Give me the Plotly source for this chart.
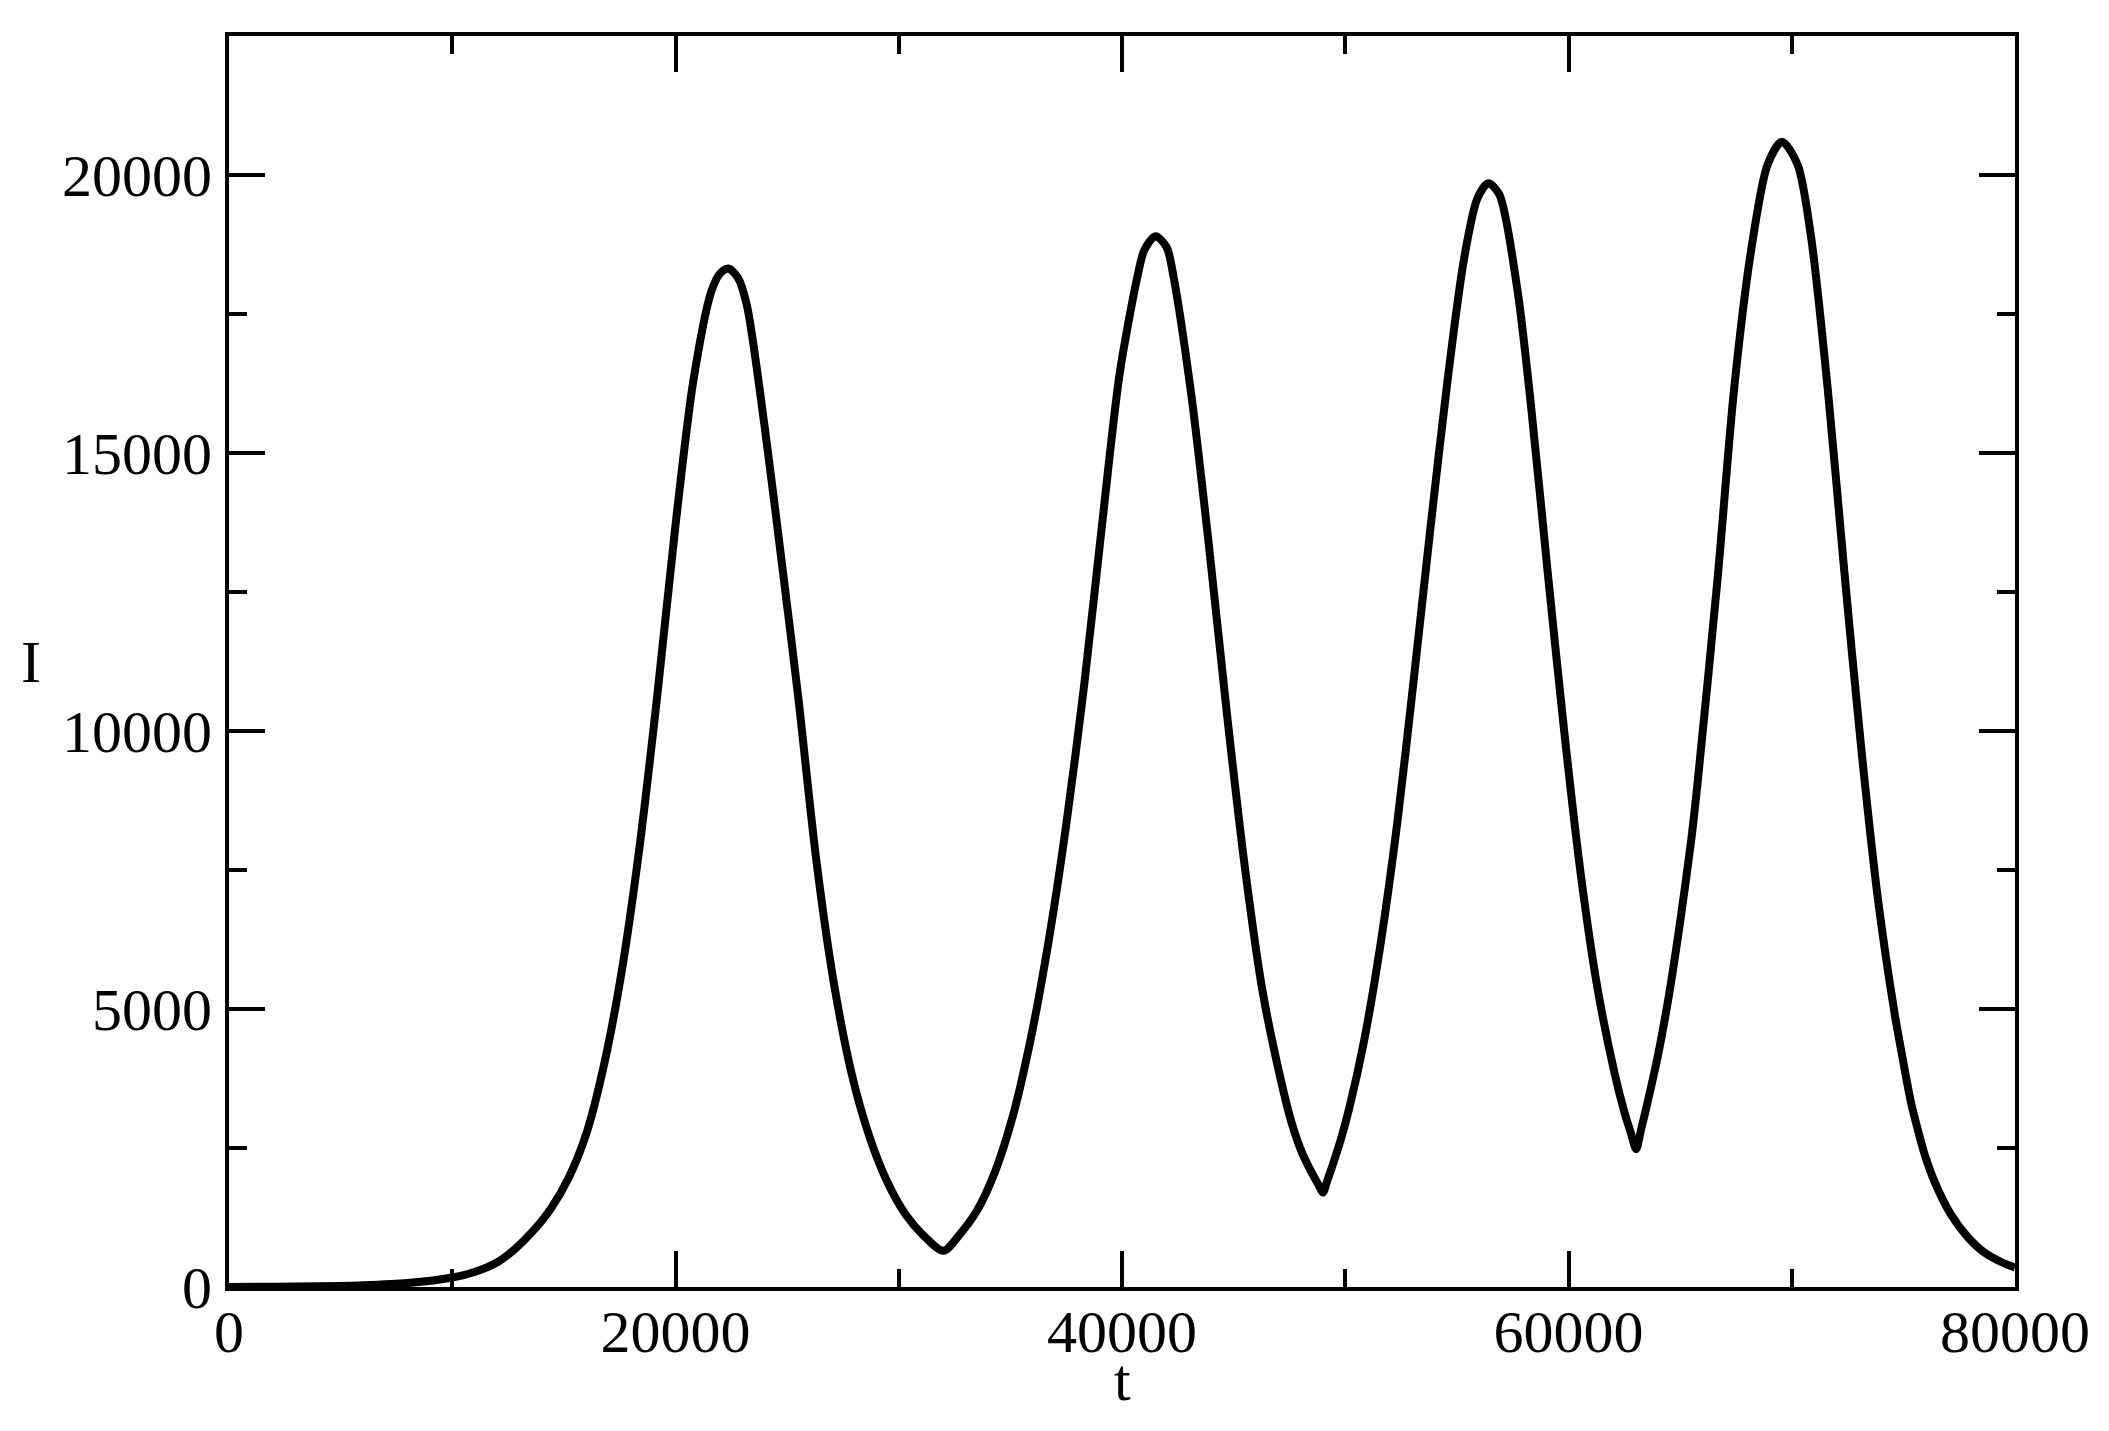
import plotly.graph_objects as go

# time values (t) and infected counts (I)
t_values = [0, 2000, 4000, 6000, 8000, 10000, 11000, 12000, 12800, 13600,
            14400, 15200, 16000, 16800, 17600, 18400, 19200, 20000, 20800, 21600,
            22000, 22370, 22800, 23200, 24000, 24800, 25500, 26300, 27100, 27900,
            28700, 29500, 30300, 31100, 32000, 32700, 33500, 34300, 35100, 35900,
            36700, 37500, 38300, 39100, 39900, 40700, 41000, 41500, 42000, 42300,
            43100, 43900, 44700, 45500, 46300, 47100, 47600, 48100, 48600, 48800,
            49000, 49200, 49400, 49800, 50200, 50840, 51590, 52340, 53080, 53830,
            54580, 55320, 55920, 56410, 56900, 57710, 58310, 59060, 59800, 60550,
            61300, 62050, 62500, 62800, 63030, 63250, 63500, 64000, 64500, 65030,
            65500, 65780, 66680, 67420, 68170, 68920, 69560, 70260, 70860, 71610,
            72350, 73100, 73850, 74590, 74890, 75340, 75640, 75940, 76390, 77135,
            77880, 78630, 79380, 80000]
I_values = [2, 5, 12, 30, 70, 170, 270, 440, 680, 1000,
            1400, 1950, 2750, 4000, 5700, 7950, 10700, 13700, 16300, 17900,
            18230, 18320, 18150, 17650, 15450, 12900, 10600, 7700, 5450, 3820,
            2690, 1880, 1310, 930, 650, 930, 1370, 2060, 3060, 4440,
            6190, 8310, 10810, 13690, 16440, 18190, 18650, 18900, 18700, 18190,
            16060, 13310, 10310, 7560, 5310, 3750, 2950, 2380, 1980, 1840,
            1700, 1920, 2150, 2650, 3250, 4420, 6190, 8380, 10970, 13700,
            16300, 18490, 19580, 19850, 19650, 17940, 15890, 12890, 10020, 7420,
            5370, 3870, 3150, 2760, 2480, 2830, 3250, 4150, 5250, 6650,
            8050, 9060, 12750, 16160, 18620, 20190, 20600, 20190, 18900, 16160,
            12890, 9740, 7010, 4960, 4280, 3320, 2840, 2400, 1900, 1300,
            900, 620, 450, 350]

x_ticks = [0, 20000, 40000, 60000, 80000]
y_ticks = [0, 5000, 10000, 15000, 20000]

FONT = "Liberation Serif, Times New Roman, serif"

fig = go.Figure()
fig.add_trace(go.Scatter(
    x=t_values, y=I_values, mode="lines",
    line=dict(color="black", width=8, shape="spline", smoothing=0.8),
    showlegend=False, hoverinfo="x+y",
))

axis_common = dict(
    showline=True, linecolor="black", linewidth=4, mirror="ticks",
    ticks="inside", ticklen=36, tickwidth=4, tickcolor="black",
    showgrid=False, zeroline=False,
    tickfont=dict(family=FONT, size=60, color="black"),
    tickformat="d",
)

fig.update_xaxes(
    range=[0, 80000], tickvals=x_ticks,
    minor=dict(dtick=10000, ticks="inside", ticklen=18, tickwidth=4,
               tickcolor="black", showgrid=False),
    ticklabelstandoff=-11,
    **axis_common,
)
fig.update_yaxes(
    range=[0, 22500], tickvals=y_ticks,
    minor=dict(dtick=2500, ticks="inside", ticklen=18, tickwidth=4,
               tickcolor="black", showgrid=False),
    ticklabelstandoff=1,
    **axis_common,
)

# axis titles placed as annotations (the "I" is upright, as in the reference)
fig.add_annotation(
    text="I", xref="paper", yref="paper", x=-0.111, y=0.5,
    xanchor="center", yanchor="middle", showarrow=False,
    font=dict(family=FONT, size=60, color="black"),
)
fig.add_annotation(
    text="t", xref="paper", yref="paper", x=0.5, y=-0.0743,
    xanchor="center", yanchor="middle", showarrow=False,
    font=dict(family=FONT, size=60, color="black"),
)

fig.update_layout(
    width=2093, height=1415,
    margin=dict(l=221, r=86, t=28, b=136, autoexpand=False),
    paper_bgcolor="white", plot_bgcolor="white",
    showlegend=False,
)

fig.write_html("out.html")
